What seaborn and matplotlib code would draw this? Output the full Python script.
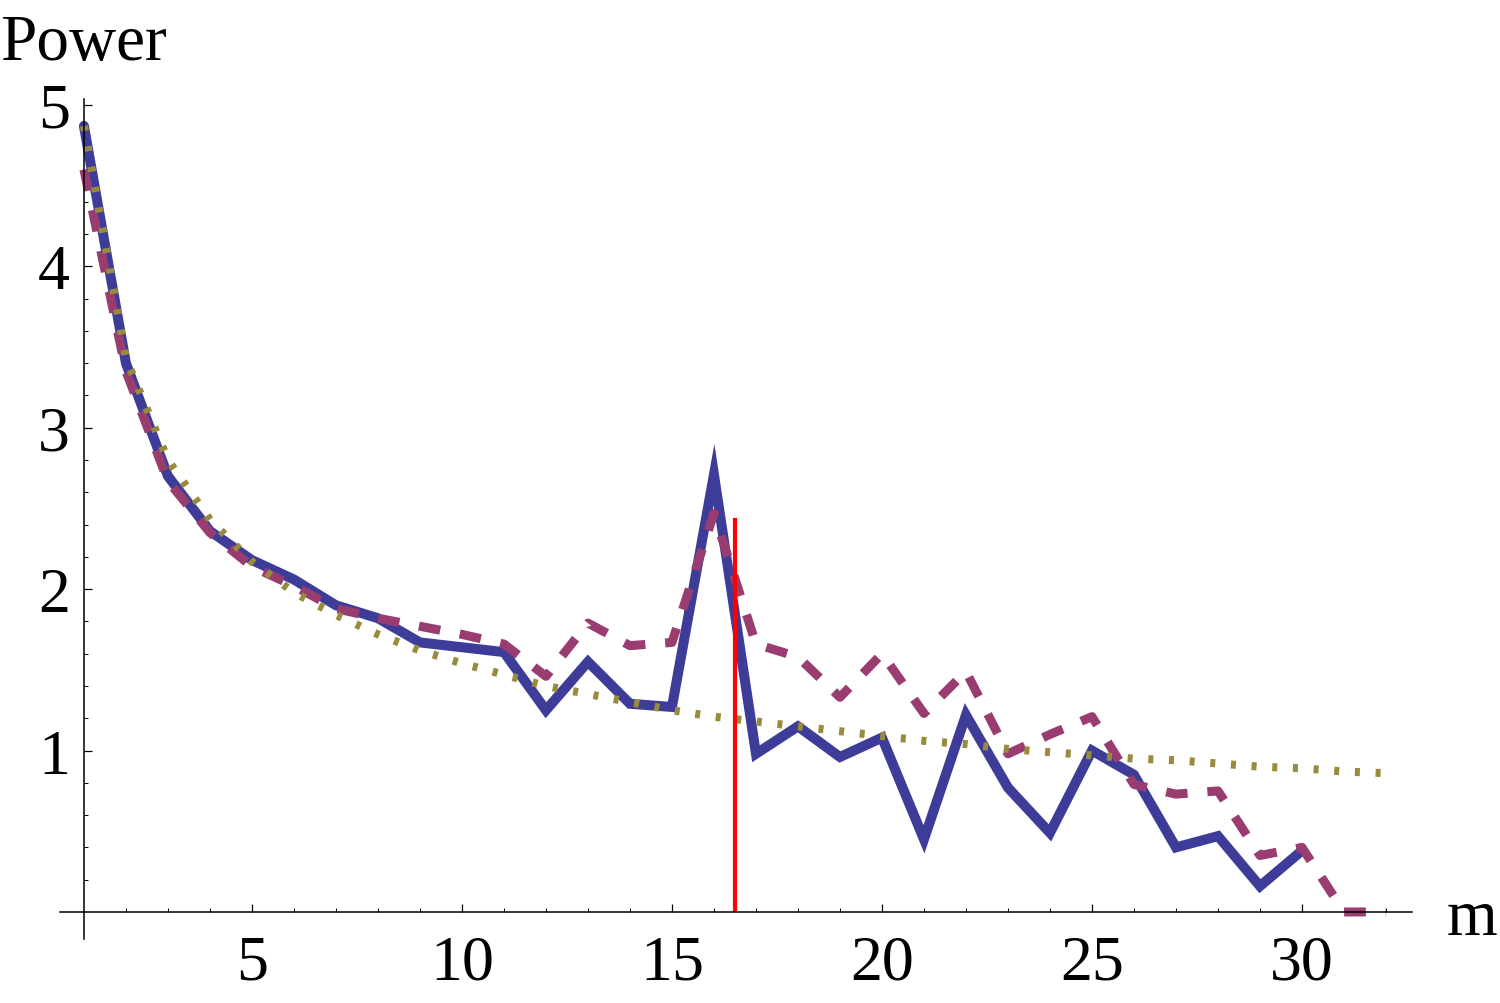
import numpy as np
import pandas as pd
import matplotlib
matplotlib.use('Agg')
import matplotlib.pyplot as plt
import seaborn as sns

# Values
m_solid = list(range(1, 31))
power_solid = [4.87, 3.40, 2.70, 2.36, 2.18, 2.06, 1.90, 1.82, 1.67, 1.64,
               1.61, 1.25, 1.55, 1.29, 1.27, 2.71, 0.98, 1.15, 0.96, 1.08,
               0.45, 1.22, 0.77, 0.49, 1.00, 0.85, 0.40, 0.47, 0.16, 0.38]

m_dashed = list(range(1, 33))
power_dashed = [4.60, 3.35, 2.67, 2.35, 2.14, 2.02, 1.88, 1.82, 1.77, 1.72,
                1.66, 1.46, 1.79, 1.65, 1.67, 2.47, 1.66, 1.58, 1.33, 1.60,
                1.23, 1.49, 0.98, 1.10, 1.21, 0.79, 0.73, 0.75, 0.35, 0.40,
                0.00, 0.00]

m_dotted = list(range(1, 33))
power_dotted = [4.87, 3.43, 2.80, 2.43, 2.17, 1.98, 1.84, 1.72, 1.62, 1.54,
                1.47, 1.40, 1.35, 1.30, 1.25, 1.21, 1.18, 1.15, 1.12, 1.09,
                1.06, 1.04, 1.01, 0.99, 0.97, 0.95, 0.94, 0.92, 0.90, 0.89,
                0.87, 0.86]

cut_m = 16.5
cut_top = 2.44

x_ticks = [5, 10, 15, 20, 25, 30]
y_ticks = [1, 2, 3, 4, 5]

sns.set_style('ticks')
plt.rcParams['font.family'] = ['Liberation Serif', 'DejaVu Serif']
plt.rcParams['text.color'] = 'black'
plt.rcParams['xtick.color'] = 'black'
plt.rcParams['ytick.color'] = 'black'

fig = plt.figure(figsize=(15, 10.04), dpi=100)
ax = fig.add_axes([60 / 1500, 1 - 940.4 / 1004, (1412 - 60) / 1500, (940.4 - 99.5) / 1004])

blue = '#3D3D99'
purple = '#993D71'
olive = '#998B3D'

sns.lineplot(x=m_solid, y=power_solid, ax=ax, color=blue, linewidth=7.2,
             solid_joinstyle='miter')
sns.lineplot(x=m_dashed, y=power_dashed, ax=ax, color=purple, linewidth=6.5,
             linestyle=(0, (2.4, 2.2)))
sns.lineplot(x=m_dotted, y=power_dotted, ax=ax, color=olive, linewidth=5.8,
             linestyle=(0, (0.62, 1.95)))
ax.vlines(cut_m, 0, cut_top, color='#FF0000', linewidth=3.0)

ax.set_xlim(0.43, 32.62)
ax.set_ylim(-0.17, 5.04)

# axes cross at (1, 0), like the original
ax.spines['left'].set_position(('data', 1))
ax.spines['bottom'].set_position(('data', 0))
ax.spines['top'].set_visible(False)
ax.spines['right'].set_visible(False)
for s in ['left', 'bottom']:
    ax.spines[s].set_linewidth(1.1)
    ax.spines[s].set_color('black')

ax.set_xticks(x_ticks)
ax.set_xticks(np.arange(2, 33, 1), minor=True)
ax.set_yticks(y_ticks)
ax.set_yticks(np.arange(0.2, 5.01, 0.2), minor=True)
ax.set_xticklabels([str(t) for t in x_ticks])
ax.set_yticklabels([str(t) for t in y_ticks])

ax.tick_params(axis='both', which='major', direction='in', length=5.5, width=0.9,
               labelsize=46, colors='black', labelcolor='black')
ax.tick_params(axis='both', which='minor', direction='in', length=3, width=0.7,
               colors='black')
ax.tick_params(axis='x', which='major', pad=16)
ax.tick_params(axis='y', which='major', pad=10)

ax.set_xlabel('')
ax.set_ylabel('')
ax.patch.set_visible(False)

fig.text(0.0, 1 - 60 / 1004, 'Power', fontsize=47, ha='left', va='baseline', color='black')
fig.text(1447 / 1500, 1 - 935 / 1004, 'm', fontsize=47, ha='left', va='baseline', color='black')

fig.savefig('out.png', dpi=100, facecolor='white')
